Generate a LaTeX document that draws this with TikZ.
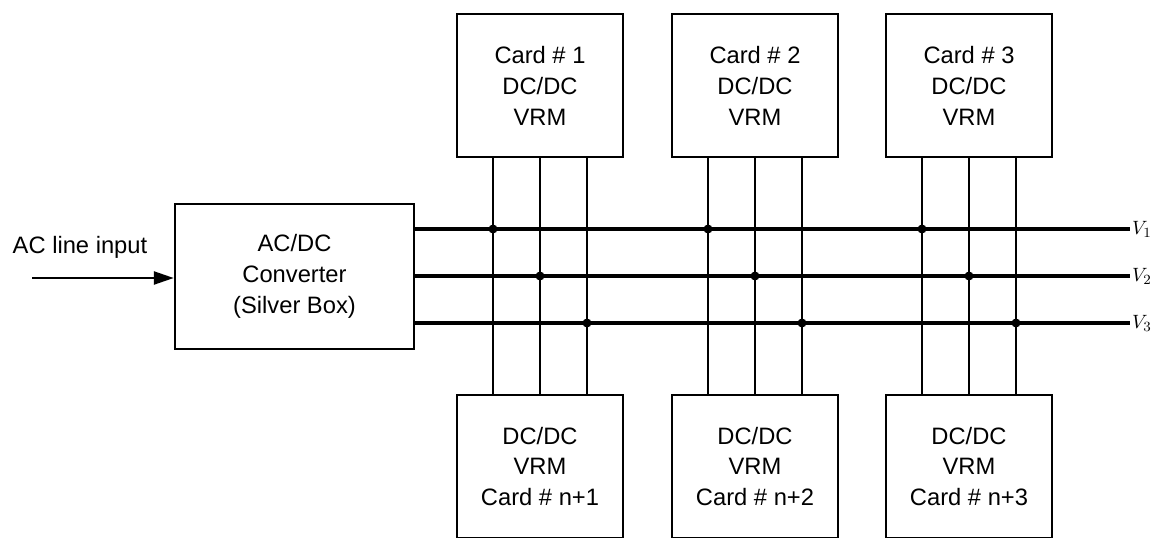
\documentclass[tikz,border=0pt]{standalone}
\usepackage{fontspec}
\setmainfont{Liberation Sans}
\usetikzlibrary{arrows.meta,positioning}

\begin{document}
\begin{tikzpicture}[
  card/.style={draw,line width=1.4pt,minimum width=3.32cm,minimum height=2.86cm,align=center,font=\fontsize{13.5}{17.6}\selectfont},
  bus/.style={line width=2pt},
  tap/.style={line width=1.4pt},
  junc/.style={circle,fill,inner sep=0pt,minimum size=1.8mm},
  rail/.style={anchor=west,inner sep=1pt,font=\fontsize{11}{13}\selectfont}]
\useasboundingbox (0,0) rectangle (23.22,-10.74);
\clip (0,0) rectangle (23.22,-10.74);
% converter and input
\node[card,minimum width=4.78cm,minimum height=2.9cm] (acdc) at (5.89,-5.53) {AC/DC\\Converter\\(Silver Box)};
\node[font=\fontsize{13.5}{15}\selectfont] (acin) at (1.6,-4.94) {AC line input};
\coordinate (src) at (0.64,-5.56);
\draw[line width=1.4pt,-{Triangle[length=4mm,width=2.6mm]}] (src) -- (src -| acdc.west);
% output rails
\node[rail] (v1) at (22.6,-4.58) {$V_1$};
\node[rail] (v2) at (22.6,-5.52) {$V_2$};
\node[rail] (v3) at (22.6,-6.46) {$V_3$};
\foreach \k in {1,2,3}
  \draw[bus] (acdc.east |- v\k) -- (v\k.west);
% cards
\foreach \i/\x in {1/10.8,2/15.1,3/19.38} {
  \node[card] (top\i) at (\x,-1.71) {Card \# \i\\DC/DC\\VRM};
  \node[card] (bot\i) at (\x,-9.33) {DC/DC\\VRM\\Card \# n+\i};
}
\foreach \i in {1,2,3} {
  \foreach \k/\dx in {1/-0.94,2/0,3/0.94} {
    \coordinate (t\i\k) at ([xshift=\dx cm]top\i.south);
    \coordinate (b\i\k) at ([xshift=\dx cm]bot\i.north);
    \draw[tap] (t\i\k) -- (b\i\k);
    \node[junc] (j\i\k) at (t\i\k |- v\k) {};
  }
}
\end{tikzpicture}
\end{document}
